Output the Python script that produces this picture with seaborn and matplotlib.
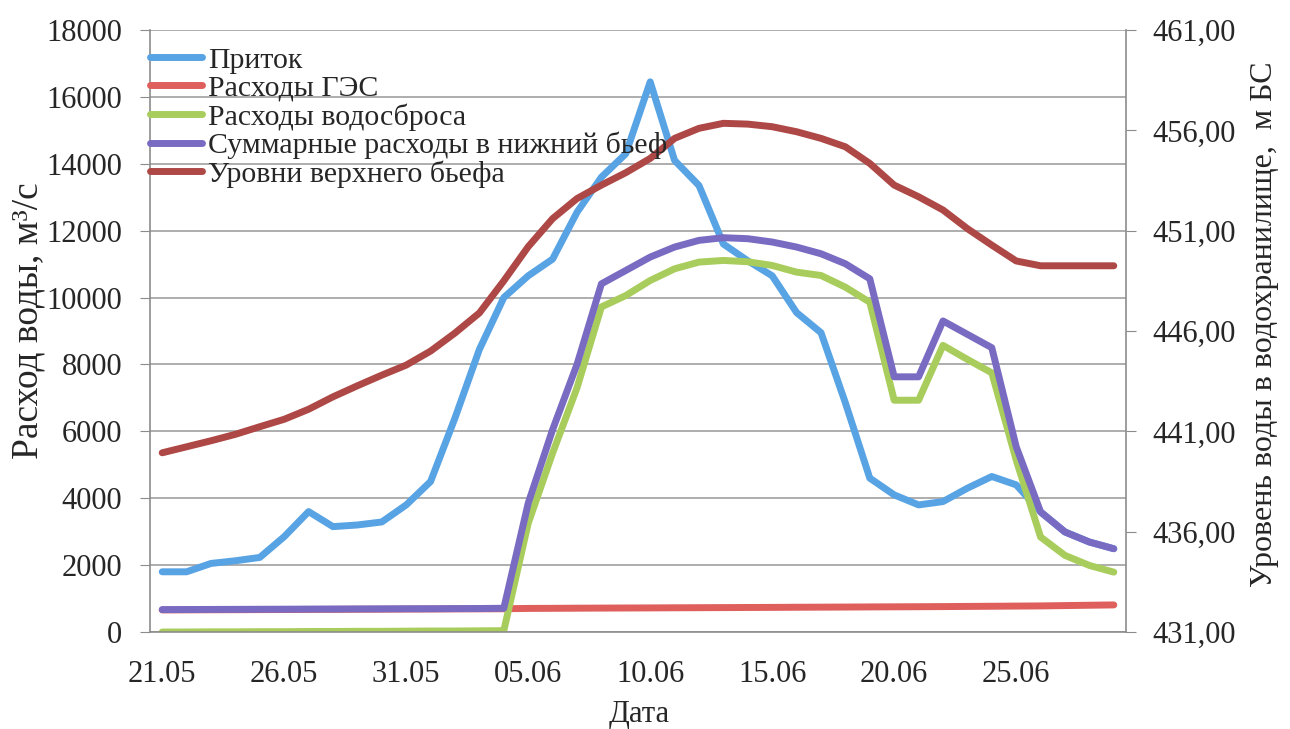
import numpy as np
import matplotlib
matplotlib.use("Agg")
import matplotlib.pyplot as plt
import pandas as pd
import seaborn as sns
from matplotlib.lines import Line2D
from matplotlib.ticker import FixedLocator

# ================= DATA =================
dates = pd.date_range("2000-05-21", "2000-06-29").strftime("%d.%m").tolist()
tick_labels = ["21.05", "26.05", "31.05", "05.06", "10.06", "15.06", "20.06", "25.06"]

inflow = [1800, 1800, 2050, 2130, 2230, 2850, 3600, 3150, 3200, 3290,
          3800, 4500, 6400, 8450, 10000, 10650, 11150, 12550, 13600, 14300,
          16450, 14100, 13350, 11600, 11100, 10650, 9550, 8950, 6850, 4600,
          4100, 3800, 3900, 4300, 4650, 4400, 3590, 2990, 2690, 2490]

hpp_flow = [660, 662, 665, 667, 670, 672, 675, 677, 680, 682,
            685, 687, 690, 692, 695, 705, 708, 712, 715, 718,
            720, 724, 727, 730, 733, 736, 740, 743, 746, 750,
            753, 756, 760, 765, 770, 775, 780, 790, 800, 810]

spill_flow = [0, 0, 5, 5, 10, 10, 15, 15, 20, 20,
              25, 30, 30, 35, 40, 3250, 5350, 7300, 9720, 10060,
              10510, 10860, 11060, 11110, 11070, 10960, 10760, 10660, 10310, 9860,
              6930, 6930, 8570, 8150, 7750, 5140, 2840, 2290, 1990, 1790]

total_flow = [670, 672, 675, 677, 680, 682, 685, 687, 690, 692,
              695, 697, 700, 702, 710, 3850, 6050, 8000, 10410, 10810,
              11210, 11510, 11710, 11790, 11760, 11660, 11510, 11310, 11010, 10560,
              7630, 7630, 9300, 8900, 8500, 5540, 3590, 2990, 2690, 2490]

upper_level = [439.93, 440.23, 440.53, 440.85, 441.23, 441.60, 442.10, 442.72, 443.27, 443.80,
               444.30, 445.00, 445.90, 446.90, 448.50, 450.20, 451.60, 452.60, 453.27, 453.89,
               454.60, 455.60, 456.10, 456.35, 456.31, 456.18, 455.93, 455.60, 455.18, 454.35,
               453.27, 452.69, 452.03, 451.10, 450.28, 449.49, 449.25, 449.25, 449.25, 449.25]

names = ["Приток", "Расходы ГЭС", "Расходы водосброса",
         "Суммарные расходы в нижний бьеф", "Уровни верхнего бьефа"]
colors = ["#58A3E4", "#DE5F5C", "#A9CD5C", "#7A6BC2", "#AE4846"]

level_ticks = [431, 436, 441, 446, 451, 456, 461]

# ================= PLOT =================
sns.set_style("white")
plt.rcParams["font.family"] = ["Liberation Serif", "DejaVu Serif"]

day = np.arange(len(dates))
df = pd.DataFrame({
    "day": np.tile(day, 4),
    "value": inflow + hpp_flow + spill_flow + total_flow,
    "series": np.repeat(names[:4], len(dates)),
})

fig, ax = plt.subplots(figsize=(12.9, 7.29), dpi=100)
fig.subplots_adjust(left=150/1290, right=1126/1290, bottom=97/729, top=699/729)

sns.lineplot(data=df, x="day", y="value", hue="series", hue_order=names[:4],
             palette=dict(zip(names[:4], colors[:4])), lw=5, ax=ax, legend=False,
             solid_capstyle="round", solid_joinstyle="round")

ax2 = ax.twinx()
sns.lineplot(x=day, y=upper_level, ax=ax2, color=colors[4], lw=5,
             solid_capstyle="round", solid_joinstyle="round")

grey = "#8c8c8c"
ax.set_xlim(-0.5, 39.5)
ax.set_ylim(0, 18000)
ax2.set_ylim(431, 461)
ax.set_yticks(np.arange(0, 18001, 2000))
ax.yaxis.grid(True, color="#a0a0a0", lw=1.2)
ax.set_axisbelow(True)

ax.set_xticks(day[::5])
ax.set_xticklabels(tick_labels)
ax.xaxis.set_minor_locator(FixedLocator(np.arange(-0.5, 39, 5)))
ax.tick_params(axis="x", which="major", length=0, pad=20, labelsize=22)
ax.tick_params(axis="x", which="minor", length=7, color=grey, direction="out")
ax.tick_params(axis="y", length=7, color=grey, direction="out", pad=13, labelsize=22)

ax2.yaxis.set_major_locator(FixedLocator(level_ticks))
ax2.set_yticklabels([f"{v:.2f}".replace(".", ",") for v in level_ticks])
ax2.tick_params(axis="y", length=7, color=grey, direction="out", pad=12, labelsize=22)

for s in ["top", "right"]:
    ax.spines[s].set_visible(False)
for s in ["top", "left", "bottom"]:
    ax2.spines[s].set_visible(False)
for sp in [ax.spines["left"], ax.spines["bottom"], ax2.spines["right"]]:
    sp.set_color(grey)
    sp.set_linewidth(1.2)

ax.set_xlabel("Дата", fontsize=22)
ax.set_ylabel("Расход воды, м³/с", fontsize=27)
ax2.set_ylabel("Уровень воды в водохранилище,  м БС", fontsize=23)
ax.xaxis.set_label_coords(0.501, -0.113)
ax.yaxis.set_label_coords(-0.107, 0.518)
ax2.yaxis.set_label_coords(1.127, 0.512)

handles = [Line2D([], [], color=c, lw=5, solid_capstyle="round") for c in colors]
ax2.legend(handles, names, loc="upper left", bbox_to_anchor=(0.0, 0.972),
           frameon=False, fontsize=21.5, handlelength=1.75, handletextpad=0.2,
           labelspacing=0.04, borderaxespad=0, borderpad=0)

plt.savefig("out.png", dpi=100)
